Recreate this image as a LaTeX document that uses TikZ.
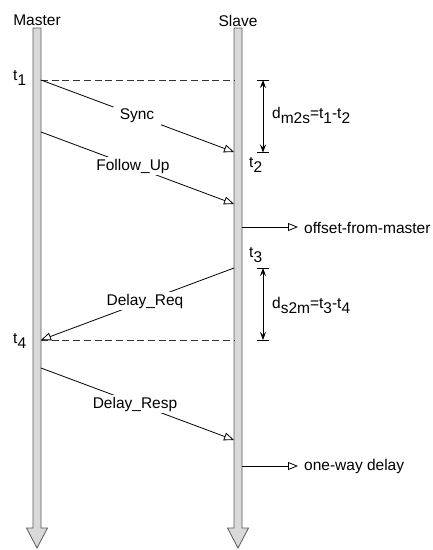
\documentclass[tikz,border=0pt]{standalone}
\usepackage{fontspec}
\setmainfont{Liberation Sans}
\usetikzlibrary{arrows.meta}
\newcommand\lowr[1]{\raisebox{-5.5pt}{#1}}
\definecolor{barfill}{HTML}{D9D9D9}
\definecolor{barline}{HTML}{5A5A5A}
\tikzset{
  timebar/.style={draw=barline, fill=barfill, line width=0.8pt, line join=miter},
  msg/.style={draw=black, line width=0.8pt, -{Triangle[open, length=10pt, width=8pt, fill=white]}},
  outarrow/.style={draw=black, line width=0.8pt, -{Triangle[open, length=10pt, width=8pt, fill=white]}},
  dashline/.style={draw=black!80, line width=0.8pt, dash pattern=on 7pt off 3.7pt},
  meas/.style={draw=black, line width=0.8pt, {Stealth[length=8pt, width=6pt, inset=3pt]}-{Stealth[length=8pt, width=6pt, inset=3pt]}},
  tick/.style={draw=black, line width=0.8pt},
  lbl/.style={font=\fontsize{15.5}{18}\selectfont, inner sep=0pt},
  msglbl/.style={font=\fontsize{15.5}{18}\selectfont, fill=white, inner xsep=7pt, inner ysep=2pt},
}
\begin{document}
\begin{tikzpicture}[x=1pt, y=-1pt]
\useasboundingbox (0,0) rectangle (433,550);
% time bars
\draw[timebar] (33,28) -- (41,28) -- (41,528) -- (47.5,528) -- (37,548) -- (26.5,528) -- (33,528) -- cycle;
\draw[timebar] (234,28) -- (242,28) -- (242,528) -- (248.5,528) -- (238,548) -- (227.5,528) -- (234,528) -- cycle;
\node[lbl, anchor=base] (master) at (37,25) {Master};
\node[lbl, anchor=base] (slave) at (238,26) {Slave};
% coordinates
\coordinate (m1) at (41,80);
\coordinate (s1d) at (234,80);
\coordinate (s2) at (234,152);
\coordinate (m2) at (41,132);
\coordinate (s2b) at (234,204);
\coordinate (s3) at (234,268);
\coordinate (m4) at (41,340);
\coordinate (s4d) at (234,340);
\coordinate (m5) at (41,368);
\coordinate (s5) at (234,440);
\coordinate (sofs) at (242,227);
\coordinate (eofs) at (298,227);
\coordinate (sowd) at (242,466);
\coordinate (eowd) at (298,466);
% dashed lines
\draw[dashline] (m1) -- (s1d);
\draw[dashline] (m4) -- (s4d);
% messages
\draw[msg] (m1) -- (s2);
\draw[msg] (m2) -- (s2b);
\draw[msg] (s3) -- (m4);
\draw[msg] (m5) -- (s5);
\node[msglbl] (sync) at (137,116) {Sync};
\node[msglbl] (fup) at (133,166) {Follow\_Up};
\node[msglbl] (dreq) at (145,301) {Delay\_Req};
\node[msglbl] (dresp) at (135,404) {Delay\_Resp};
% outputs
\draw[outarrow] (sofs) -- (eofs);
\node[lbl, anchor=west] (ofs) at (304,228) {offset-from-master};
\draw[outarrow] (sowd) -- (eowd);
\node[lbl, anchor=west] (owd) at (304,466) {one-way delay};
% time labels
\node[lbl, anchor=base west] (t1) at (13,80) {t\lowr{1}};
\node[lbl, anchor=base west] (t2) at (249,167) {t\lowr{2}};
\node[lbl, anchor=base west] (t3) at (249,257) {t\lowr{3}};
\node[lbl, anchor=base west] (t4) at (13,343) {t\lowr{4}};
% measurements
\coordinate (a1) at (263,80);
\coordinate (a2) at (263,152.5);
\coordinate (b1) at (263,268);
\coordinate (b2) at (263,340);
\draw[tick] (257,80) -- (269,80);
\draw[tick] (257,152.5) -- (269,152.5);
\draw[tick] (257,268) -- (269,268);
\draw[tick] (257,340) -- (269,340);
\draw[meas] (a1) -- (a2);
\draw[meas] (b1) -- (b2);
\node[lbl, anchor=base west] (dm2s) at (272,118) {d\lowr{m2s}=t\lowr{1}-t\lowr{2}};
\node[lbl, anchor=base west] (ds2m) at (272,308) {d\lowr{s2m}=t\lowr{3}-t\lowr{4}};
\end{tikzpicture}
\end{document}
